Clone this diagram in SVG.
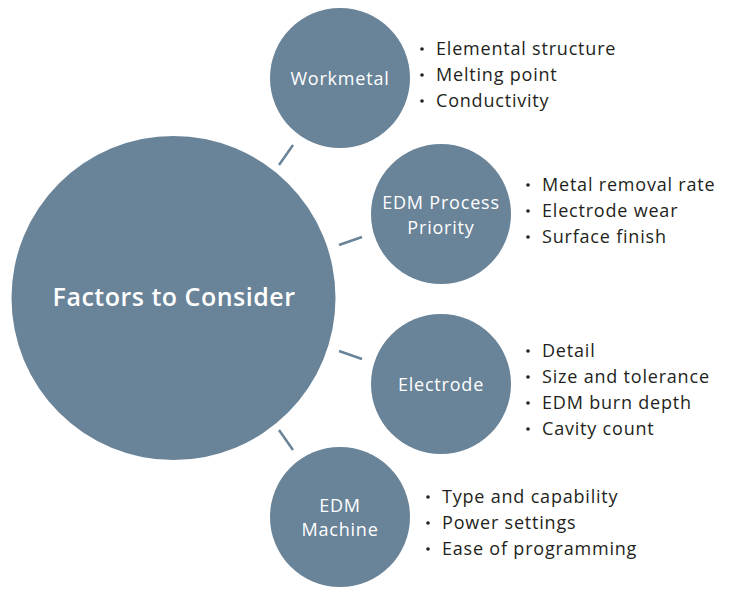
<svg xmlns="http://www.w3.org/2000/svg" width="732" height="589" viewBox="0 0 732 589">
  <style>
    .bubble { fill: #698398; }
    .label { fill: #ffffff; font-family: "Open Sans", "Liberation Sans", sans-serif; font-size: 18px; letter-spacing: 0.8px; text-anchor: middle; }
    .title { fill: #ffffff; font-family: "Open Sans", "Liberation Sans", sans-serif; font-size: 25px; font-weight: 600; letter-spacing: 0.5px; text-anchor: middle; }
    .item { fill: #231f20; font-family: "Open Sans", "Liberation Sans", sans-serif; font-size: 18px; letter-spacing: 0.8px; }
    .dot { fill: #231f20; }
    .link { stroke: #698398; stroke-width: 2.5; stroke-linecap: butt; fill: none; }
  </style>
  <defs>
    <circle id="bullet" class="dot" r="1.8"/>
  </defs>
  <rect width="732" height="589" fill="#ffffff"/>

  <!-- connectors between the hub and each factor -->
  <g id="connectors">
    <line class="link" x1="293" y1="145" x2="279" y2="165"/>
    <line class="link" x1="362" y1="237" x2="339" y2="245"/>
    <line class="link" x1="339" y1="351" x2="362" y2="359"/>
    <line class="link" x1="279" y1="430" x2="293" y2="450"/>
  </g>

  <g id="hub">
    <circle class="bubble" cx="173.5" cy="298" r="162"/>
    <text class="title" x="174" y="306">Factors to Consider</text>
  </g>

  <g id="workmetal">
    <circle class="bubble" cx="340" cy="78" r="70"/>
    <text class="label" x="340" y="85">Workmetal</text>
    <use href="#bullet" x="422" y="49"/>
    <use href="#bullet" x="422" y="75"/>
    <use href="#bullet" x="422" y="101"/>
    <g class="item">
      <text x="436" y="55">Elemental structure</text>
      <text x="436" y="81">Melting point</text>
      <text x="436" y="107">Conductivity</text>
    </g>
  </g>

  <g id="process-priority">
    <circle class="bubble" cx="441" cy="214" r="70"/>
    <text class="label" x="441" y="209">EDM Process</text>
    <text class="label" x="441" y="234">Priority</text>
    <use href="#bullet" x="528" y="185"/>
    <use href="#bullet" x="528" y="211"/>
    <use href="#bullet" x="528" y="237"/>
    <g class="item">
      <text x="542" y="191">Metal removal rate</text>
      <text x="542" y="217">Electrode wear</text>
      <text x="542" y="243">Surface finish</text>
    </g>
  </g>

  <g id="electrode">
    <circle class="bubble" cx="441" cy="384" r="70"/>
    <text class="label" x="441" y="391">Electrode</text>
    <use href="#bullet" x="528" y="351"/>
    <use href="#bullet" x="528" y="377"/>
    <use href="#bullet" x="528" y="403"/>
    <use href="#bullet" x="528" y="429"/>
    <g class="item">
      <text x="542" y="357">Detail</text>
      <text x="542" y="383">Size and tolerance</text>
      <text x="542" y="409">EDM burn depth</text>
      <text x="542" y="435">Cavity count</text>
    </g>
  </g>

  <g id="machine">
    <circle class="bubble" cx="340" cy="517" r="70"/>
    <text class="label" x="340" y="512">EDM</text>
    <text class="label" x="340" y="536">Machine</text>
    <use href="#bullet" x="428" y="497"/>
    <use href="#bullet" x="428" y="523"/>
    <use href="#bullet" x="428" y="549"/>
    <g class="item">
      <text x="442" y="503">Type and capability</text>
      <text x="442" y="529">Power settings</text>
      <text x="442" y="555">Ease of programming</text>
    </g>
  </g>
</svg>
